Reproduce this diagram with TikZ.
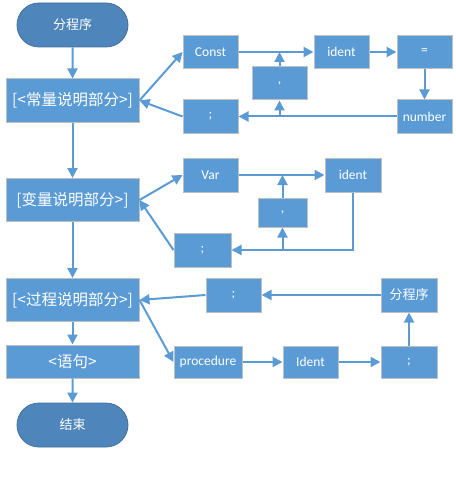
\documentclass[tikz,border=0pt]{standalone}
\usepackage{fontspec}
\setmainfont{Carlito}
\newfontfamily\cjk{Noto Sans CJK SC}
\usetikzlibrary{arrows.meta,shapes.misc}
\definecolor{boxblue}{HTML}{5B9BD5}
\definecolor{boxedge}{HTML}{BFBFBF}
\definecolor{termfill}{HTML}{4E85BA}
\definecolor{termedge}{HTML}{41719C}
\definecolor{lineblue}{HTML}{5B9BD5}
\begin{document}
\begin{tikzpicture}[x=1pt,y=-1pt,
 blk/.style={rectangle,draw=boxedge,line width=1pt,fill=boxblue,text=white,inner sep=0pt,font=\fontsize{13.5}{15}\selectfont},
 big/.style={blk,minimum width=133pt,minimum height=43pt,font=\cjk\fontsize{15.5}{17}\selectfont},
 sm/.style={blk,minimum width=55pt,minimum height=33pt},
 term/.style={rounded rectangle,draw=termedge,line width=0.8pt,fill=termfill,text=white,minimum width=111pt,minimum height=44pt,inner sep=0pt,font=\cjk\fontsize{13}{15}\selectfont},
 ar/.style={draw=lineblue,line width=2pt,-{Triangle[length=10pt,width=10pt]}}
]
\useasboundingbox (0,0) rectangle (455,484);

% left column
\node[term] (start) at (72.5,25) {分程序};
\node[big] (c1) at (72.5,100.5) {[<常量说明部分>]};
\node[big] (c2) at (72.5,200) {[变量说明部分>]};
\node[big] (c3) at (72.5,300) {[<过程说明部分>]};
\node[big,minimum height=33pt] (c4) at (72.5,361.5) {<语句>};
\node[term] (end) at (72.5,425) {结束};

% constant section
\node[sm] (const) at (210.5,52) {Const};
\node[sm] (ident1) at (341.5,52) {ident};
\node[sm] (eq) at (424.5,52) {=};
\node[sm] (num) at (424.5,116.5) {number};
\node[sm] (semi1) at (210.5,116.5) {;};
\node[sm] (comma1) at (279.5,83.5) {,};

% variable section
\node[sm,minimum height=34pt] (var) at (210.5,175) {Var};
\node[sm,minimum width=56pt,minimum height=34pt] (ident2) at (353,175) {ident};
\node[sm,minimum width=49pt,minimum height=29pt] (comma2) at (282.5,212.5) {,};
\node[sm,minimum width=57pt,minimum height=34pt] (semi2) at (202.5,250) {;};

% procedure section
\node[sm,minimum height=34pt] (semi3) at (233.5,295) {;};
\node[sm,minimum width=56pt,minimum height=34pt,font=\cjk\fontsize{13}{15}\selectfont] (fen) at (409,295) {分程序};
\node[sm,minimum width=68pt,minimum height=32pt] (proc) at (208,362) {procedure};
\node[sm,minimum height=32pt] (Ident) at (310.5,362) {Ident};
\node[sm,minimum width=56pt,minimum height=32pt] (semi4) at (409,362) {;};

% main flow
\draw[ar] (start) -- (c1);
\draw[ar] (c1) -- (c2);
\draw[ar] (c2) -- (c3);
\draw[ar] (c3) -- (c4);
\draw[ar] (c4) -- (end);

% constant loop
\draw[ar] (c1.east) -- (const.west);
\draw[ar] (semi1.west) -- (c1.east);
\draw[ar] (const) -- (ident1);
\draw[ar] (ident1) -- (eq);
\draw[ar] (eq) -- (num);
\draw[ar] (num) -- (semi1);
\draw[ar] (comma1.north) -- (comma1.north |- const.east);
\draw[ar] (comma1.south |- num.west) -- (comma1.south);

% variable loop
\draw[ar] (c2.east) -- (var.west);
\draw[ar] (semi2.west) -- (c2.east);
\draw[ar] (var) -- (ident2);
\draw[ar] (ident2.south) -- (ident2.south |- semi2.east) -- (semi2.east);
\draw[ar] (comma2.north) -- (comma2.north |- var.east);
\draw[ar] (comma2.south |- semi2.east) -- (comma2.south);

% procedure loop
\draw[ar] (semi3.west) -- (c3.east);
\draw[ar] (c3.east) -- (proc.west);
\draw[ar] (proc) -- (Ident);
\draw[ar] (Ident) -- (semi4);
\draw[ar] (semi4) -- (fen);
\draw[ar] (fen) -- (semi3);
\end{tikzpicture}
\end{document}
